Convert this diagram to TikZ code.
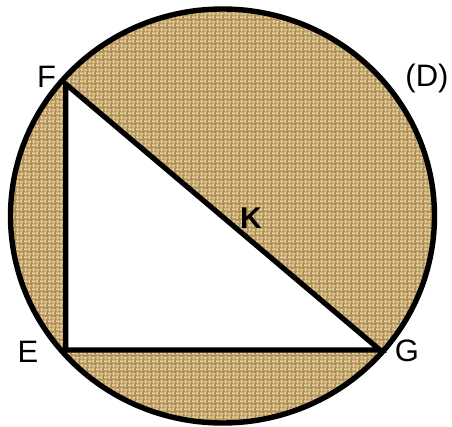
\documentclass[tikz,border=0pt]{standalone}
\usepackage{fontspec}
\setmainfont{Liberation Sans}
\usepackage{xcolor}
\usetikzlibrary{patterns.meta}

\definecolor{sackbase}{RGB}{176,142,88}
\definecolor{sackweave}{RGB}{230,208,156}

% woven sack texture
\tikzdeclarepattern{
  name=sackweave,
  type=uncolored,
  bottom left={(0pt,0pt)}, top right={(8pt,8pt)},
  tile size={(8pt,8pt)},
  code={
    \fill (0pt,0.8pt) rectangle (4pt,3pt);
    \fill (4.8pt,0pt) rectangle (7pt,4pt);
    \fill (0.8pt,4pt) rectangle (3pt,8pt);
    \fill (4pt,4.8pt) rectangle (8pt,7pt);
  }
}

\begin{document}
\begin{tikzpicture}[
    x=1pt, y=-1pt,
    edge/.style={draw=black, line width=5.2pt, line join=miter},
    rim/.style={draw=black, line width=5.4pt},
    sack/.style={fill=sackbase},
    weave/.style={pattern={sackweave}, pattern color=sackweave},
    pointlbl/.style={font=\fontsize{31}{36}\selectfont, inner sep=0pt},
    centrelbl/.style={font=\fontsize{30}{36}\selectfont\bfseries, inner sep=0pt}
]
    \useasboundingbox (0,0) rectangle (452,427);

    % Centre and vertices
    \coordinate (K) at (222.5,216);
    \coordinate (F) at (65.7,84);
    \coordinate (E) at (65.7,350);
    \coordinate (G) at (380,350);

    % Disc with texture
    \path[sack] (K) ellipse [x radius=212pt, y radius=207pt];
    \path[weave] (K) ellipse [x radius=212pt, y radius=207pt];

    % White triangle
    \fill[white] (F) -- (E) -- (G) -- cycle;
    \draw[edge] (F) -- (E) -- (G) -- cycle;

    % Circle rim
    \draw[rim] (K) ellipse [x radius=212pt, y radius=207pt];

    % Labels
    \node[pointlbl] (lblF) at (46.5,77) {F};
    \node[pointlbl] (lblE) at (28,352) {E};
    \node[pointlbl] (lblG) at (407,351) {G};
    \node[centrelbl] (lblK) at (251,218) {K};
    \node[pointlbl] (lblD) at (427,78) {(D)};
\end{tikzpicture}
\end{document}
